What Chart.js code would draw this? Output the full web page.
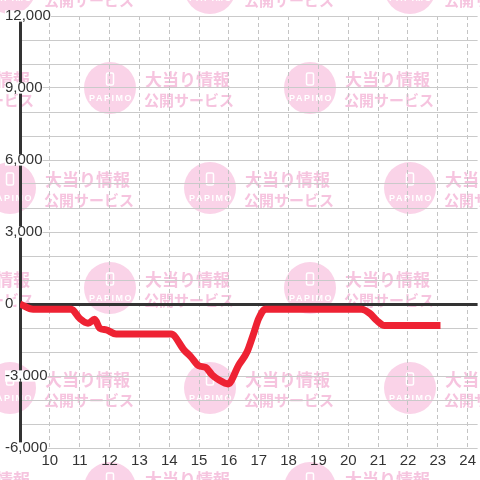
<!DOCTYPE html>
<html>
<head>
<meta charset="utf-8">
<script src="https://cdn.jsdelivr.net/npm/chart.js@4"></script>
<style>
  html, body { margin: 0; padding: 0; background: #fff; }
  #wrap { width: 480px; height: 480px; }
</style>
</head>
<body>
<div id="wrap"><canvas id="balanceChart" width="480" height="480"></canvas></div>
<script>
// hour of day (decimal) and running balance
const hours = [9.0, 9.44, 10.72, 11.0, 11.28, 11.5, 11.67, 11.89, 12.22, 14.06, 14.5, 14.72, 15.0, 15.22, 15.44, 15.67, 15.97, 16.33, 16.61, 16.83, 17.0, 17.22, 20.44, 20.72, 20.94, 21.22, 23.09];
const balance = [0, -220, -220, -600, -800, -640, -1010, -1080, -1250, -1250, -1920, -2190, -2580, -2640, -2960, -3170, -3330, -2540, -1990, -1220, -600, -220, -220, -390, -670, -900, -900];

const xMin = 9;
const xMax = 24.333;
const yMin = -6000;
const yMax = 12000;
const yLabelValues = [-6000, -3000, 0, 3000, 6000, 9000, 12000];

const points = hours.map((h, i) => ({ x: h, y: balance[i] }));

// background stamp pattern
function drawMark(ctx, cx, cy) {
  ctx.fillStyle = '#fad3e8';
  ctx.beginPath();
  ctx.arc(cx, cy, 26, 0, Math.PI * 2);
  ctx.fill();

  ctx.strokeStyle = '#fff';
  ctx.lineWidth = 1.5;
  ctx.beginPath();
  ctx.roundRect(cx - 3.5, cy - 15, 7, 12, 1.5);
  ctx.stroke();

  ctx.fillStyle = '#fff';
  ctx.font = 'bold 9px "Liberation Sans"';
  ctx.textAlign = 'center';
  ctx.textBaseline = 'middle';
  ctx.letterSpacing = '1.5px';
  ctx.fillText('PAPIMO', cx + 1, cy + 11);
  ctx.letterSpacing = '0px';

  ctx.fillStyle = '#f6c4df';
  ctx.textAlign = 'left';
  ctx.font = 'bold 17px "Noto Sans CJK JP"';
  ctx.fillText('大当り情報', cx + 35, cy - 8);
  ctx.font = 'bold 15px "Noto Sans CJK JP"';
  ctx.fillText('公開サービス', cx + 34, cy + 12);
}

const stampPlugin = {
  id: 'stamp',
  beforeDraw(chart) {
    const ctx = chart.ctx;
    ctx.save();
    ctx.fillStyle = '#fff';
    ctx.fillRect(0, 0, chart.width, chart.height);
    for (let row = 0; row < 6; row++) {
      const cy = -12 + row * 100;
      const startX = row % 2 === 0 ? 10 : 110;
      for (let cx = startX - 200; cx < 520; cx += 200) {
        drawMark(ctx, cx, cy);
      }
    }
    ctx.restore();
  }
};

const ctx = document.getElementById('balanceChart');
new Chart(ctx, {
  type: 'line',
  data: {
    datasets: [{
      data: points,
      borderColor: '#ee2233',
      borderWidth: 7,
      pointRadius: 0,
      cubicInterpolationMode: 'monotone',
      borderJoinStyle: 'round',
      borderCapStyle: 'butt'
    }]
  },
  options: {
    responsive: false,
    animation: false,
    devicePixelRatio: 1,
    layout: {
      padding: { top: 16, left: 5, right: 0, bottom: 0 }
    },
    plugins: {
      legend: { display: false },
      tooltip: { enabled: false }
    },
    scales: {
      x: {
        type: 'linear',
        min: xMin,
        max: xMax,
        afterFit: (scale) => { scale.height = 32; },
        ticks: {
          stepSize: 1,
          includeBounds: false,
          padding: 4,
          color: '#333',
          font: { family: 'Liberation Sans', size: 15 },
          maxRotation: 0,
          autoSkip: false,
          callback: (value) => value === xMin ? '' : String(value)
        },
        grid: {
          color: '#c4c4c4',
          lineWidth: 1,
          drawTicks: false
        },
        border: { display: false, dash: [4, 3] }
      },
      y: {
        min: yMin,
        max: yMax,
        afterFit: (scale) => { scale.width = 15; },
        ticks: {
          stepSize: 1000,
          mirror: true,
          padding: -15,
          color: '#333',
          font: { family: 'Liberation Sans', size: 15, lineHeight: 0.75 },
          showLabelBackdrop: true,
          backdropPadding: 0,
          backdropColor: (c) => yLabelValues.includes(c.tick.value) ? '#fff' : 'rgba(0,0,0,0)',
          callback: (value) => yLabelValues.includes(value) ? value.toLocaleString('en-US') : ''
        },
        grid: {
          color: (c) => c.tick.value === 0 ? '#333' : '#cacaca',
          lineWidth: (c) => c.tick.value === 0 ? 3 : 1,
          drawTicks: false
        },
        border: { color: '#333', width: 3 }
      }
    }
  },
  plugins: [stampPlugin]
});
</script>
</body>
</html>
